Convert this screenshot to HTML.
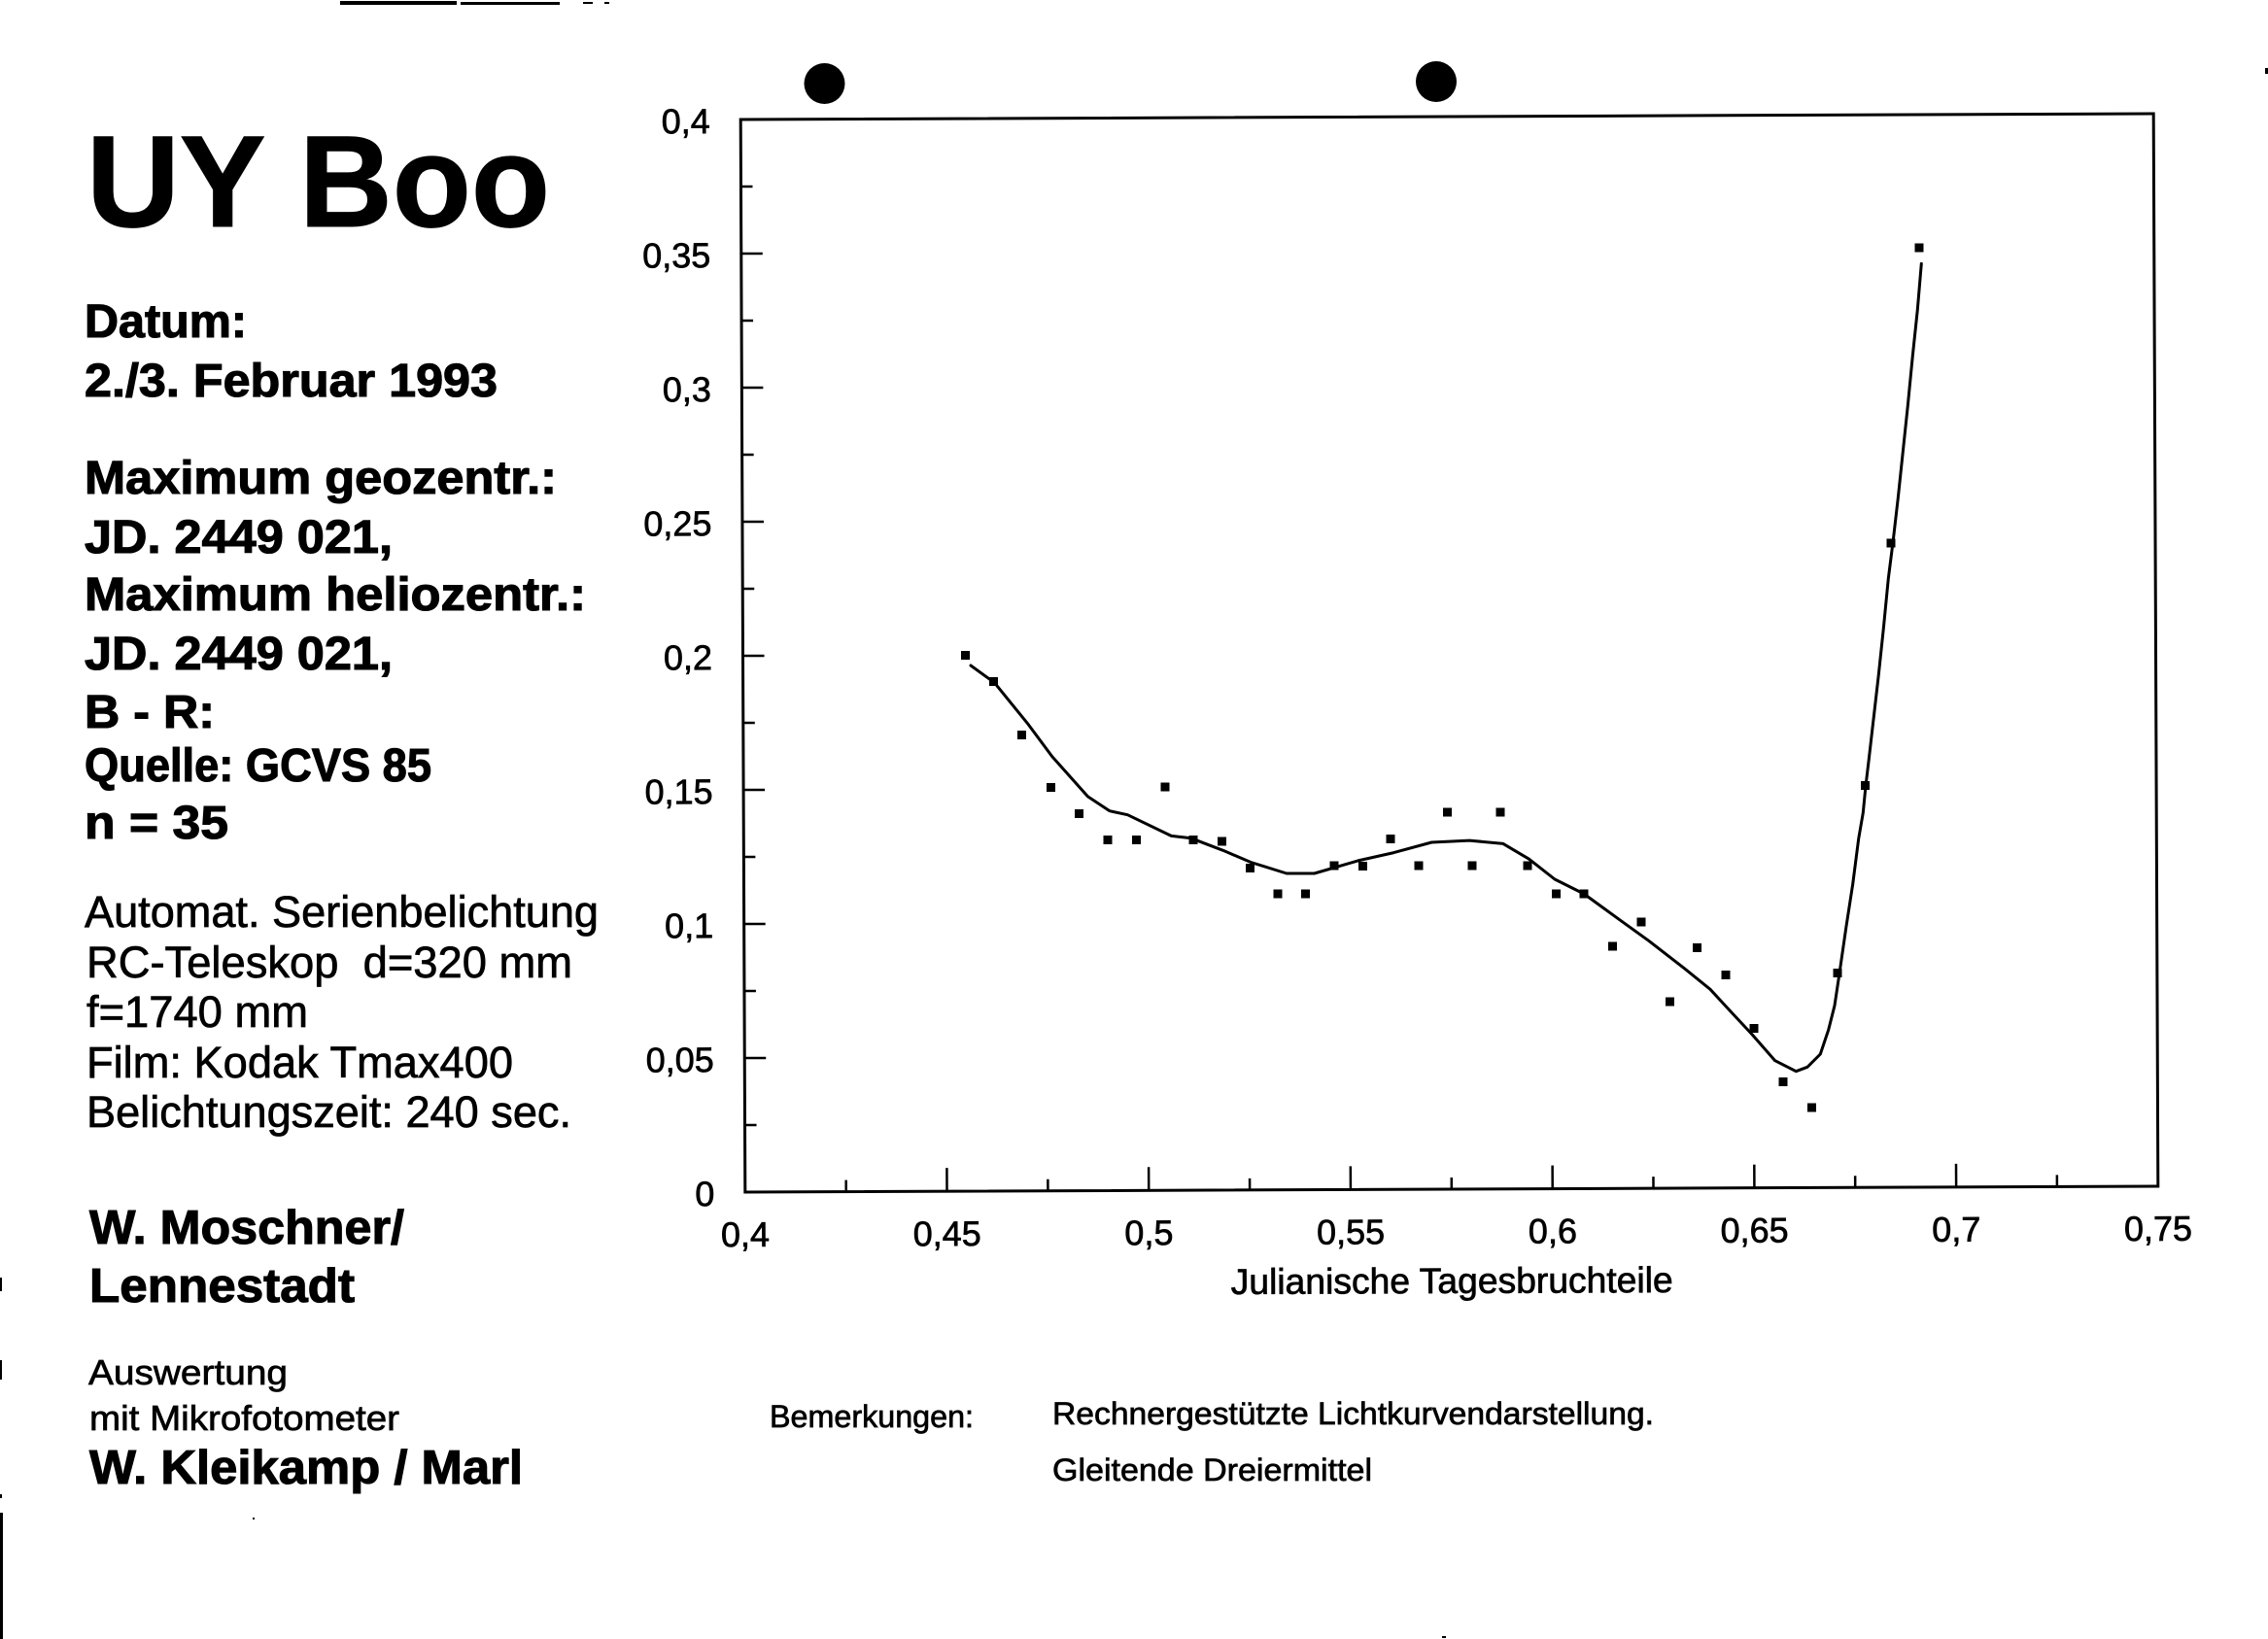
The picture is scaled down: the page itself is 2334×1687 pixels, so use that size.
<!DOCTYPE html>
<html>
<head>
<meta charset="utf-8">
<style>
  html, body { margin: 0; padding: 0; background: #fff; }
  body { width: 2334px; height: 1687px; overflow: hidden; }
  svg { display: block; }
  text { font-family: "Liberation Sans", Arial, sans-serif; fill: #000; white-space: pre; stroke: #000; stroke-width: 0.7px; }
  .b { font-weight: bold; stroke-width: 1.1px; }
</style>
</head>
<body>
<svg width="2334" height="1687" viewBox="0 0 2334 1687" xmlns="http://www.w3.org/2000/svg">
  <rect x="0" y="0" width="2334" height="1687" fill="#fff"/>

  <!-- scan artifacts -->
  <rect x="350" y="1" width="120" height="4" fill="#000"/>
  <rect x="474" y="2" width="102" height="3" fill="#000"/>
  <rect x="600" y="2" width="10" height="2" fill="#000"/>
  <rect x="622" y="2" width="5" height="2" fill="#000"/>
  <rect x="0" y="1557" width="3" height="130" fill="#000"/>
  <rect x="0" y="1315" width="2" height="14" fill="#000"/>
  <rect x="0" y="1400" width="2" height="20" fill="#000"/>
  <rect x="0" y="1538" width="2" height="4" fill="#000"/>
  <rect x="2331" y="70" width="3" height="6" fill="#000"/>
  <rect x="260" y="1562" width="2" height="2" fill="#000"/>
  <rect x="1484" y="1684" width="4" height="2" fill="#000"/>

  <!-- title + left text block -->
  <text class="b" x="89" y="233" font-size="134" textLength="477" lengthAdjust="spacingAndGlyphs">UY Boo</text>

  <text class="b" x="87" y="347" font-size="48" textLength="167" lengthAdjust="spacingAndGlyphs">Datum:</text>
  <text class="b" x="87" y="408" font-size="48" textLength="425" lengthAdjust="spacingAndGlyphs">2./3. Februar 1993</text>
  <text class="b" x="87" y="508" font-size="48" textLength="486" lengthAdjust="spacingAndGlyphs">Maximum geozentr.:</text>
  <text class="b" x="87" y="569" font-size="48" textLength="317" lengthAdjust="spacingAndGlyphs">JD. 2449 021,</text>
  <text class="b" x="87" y="628" font-size="48" textLength="516" lengthAdjust="spacingAndGlyphs">Maximum heliozentr.:</text>
  <text class="b" x="87" y="689" font-size="48" textLength="317" lengthAdjust="spacingAndGlyphs">JD. 2449 021,</text>
  <text class="b" x="87" y="749" font-size="48" textLength="134" lengthAdjust="spacingAndGlyphs">B - R:</text>
  <text class="b" x="87" y="804" font-size="48" textLength="357" lengthAdjust="spacingAndGlyphs">Quelle: GCVS 85</text>
  <text class="b" x="87" y="863" font-size="48" textLength="148" lengthAdjust="spacingAndGlyphs">n = 35</text>

  <text x="87" y="954" font-size="45" textLength="529" lengthAdjust="spacingAndGlyphs">Automat. Serienbelichtung</text>
  <text x="89" y="1006" font-size="45" textLength="500" lengthAdjust="spacingAndGlyphs">RC-Teleskop  d=320 mm</text>
  <text x="89" y="1057" font-size="45" textLength="228" lengthAdjust="spacingAndGlyphs">f=1740 mm</text>
  <text x="89" y="1109" font-size="45" textLength="439" lengthAdjust="spacingAndGlyphs">Film: Kodak Tmax400</text>
  <text x="89" y="1160" font-size="45" textLength="499" lengthAdjust="spacingAndGlyphs">Belichtungszeit: 240 sec.</text>

  <text class="b" x="92" y="1280" font-size="49" textLength="324" lengthAdjust="spacingAndGlyphs">W. Moschner/</text>
  <text class="b" x="92" y="1340" font-size="49" textLength="273" lengthAdjust="spacingAndGlyphs">Lennestadt</text>

  <text x="91" y="1425" font-size="36" textLength="205" lengthAdjust="spacingAndGlyphs">Auswertung</text>
  <text x="92" y="1472" font-size="36" textLength="319" lengthAdjust="spacingAndGlyphs">mit Mikrofotometer</text>
  <text class="b" x="92" y="1527" font-size="49" textLength="446" lengthAdjust="spacingAndGlyphs">W. Kleikamp / Marl</text>

  <!-- remarks -->
  <text x="792" y="1469" font-size="32" textLength="210" lengthAdjust="spacingAndGlyphs">Bemerkungen:</text>
  <text x="1083" y="1466" font-size="32" textLength="619" lengthAdjust="spacingAndGlyphs">Rechnergestützte Lichtkurvendarstellung.</text>
  <text x="1083" y="1524" font-size="32" textLength="329" lengthAdjust="spacingAndGlyphs">Gleitende Dreiermittel</text>

  <!-- black circles above plot -->
  <circle cx="848.5" cy="86" r="21" fill="#000"/>
  <circle cx="1478" cy="84" r="21" fill="#000"/>

  <!-- axes group (slightly rotated like the scan) -->
  <g transform="rotate(-0.24 1491.5 672)">
    <rect x="764.5" y="120" width="1454" height="1104" fill="none" stroke="#000" stroke-width="3"/>
    <g stroke="#000" stroke-width="2.5">
      <!-- y ticks -->
      <line x1="764.5" y1="1155" x2="776.5" y2="1155"/>
      <line x1="764.5" y1="1086" x2="786.5" y2="1086"/>
      <line x1="764.5" y1="1017" x2="776.5" y2="1017"/>
      <line x1="764.5" y1="948" x2="786.5" y2="948"/>
      <line x1="764.5" y1="879" x2="776.5" y2="879"/>
      <line x1="764.5" y1="810" x2="786.5" y2="810"/>
      <line x1="764.5" y1="741" x2="776.5" y2="741"/>
      <line x1="764.5" y1="672" x2="786.5" y2="672"/>
      <line x1="764.5" y1="603" x2="776.5" y2="603"/>
      <line x1="764.5" y1="534" x2="786.5" y2="534"/>
      <line x1="764.5" y1="465" x2="776.5" y2="465"/>
      <line x1="764.5" y1="396" x2="786.5" y2="396"/>
      <line x1="764.5" y1="327" x2="776.5" y2="327"/>
      <line x1="764.5" y1="258" x2="786.5" y2="258"/>
      <line x1="764.5" y1="189" x2="776.5" y2="189"/>
      <!-- x ticks -->
      <line x1="868.4" y1="1224" x2="868.4" y2="1212"/>
      <line x1="972.2" y1="1224" x2="972.2" y2="1200"/>
      <line x1="1076.1" y1="1224" x2="1076.1" y2="1212"/>
      <line x1="1179.9" y1="1224" x2="1179.9" y2="1200"/>
      <line x1="1283.8" y1="1224" x2="1283.8" y2="1212"/>
      <line x1="1387.6" y1="1224" x2="1387.6" y2="1200"/>
      <line x1="1491.5" y1="1224" x2="1491.5" y2="1212"/>
      <line x1="1595.4" y1="1224" x2="1595.4" y2="1200"/>
      <line x1="1699.2" y1="1224" x2="1699.2" y2="1212"/>
      <line x1="1803.1" y1="1224" x2="1803.1" y2="1200"/>
      <line x1="1906.9" y1="1224" x2="1906.9" y2="1212"/>
      <line x1="2010.8" y1="1224" x2="2010.8" y2="1200"/>
      <line x1="2114.6" y1="1224" x2="2114.6" y2="1212"/>
    </g>
    <!-- y labels -->
    <g font-size="36" text-anchor="end">
      <text x="733" y="1238">0</text>
      <text x="733" y="1100">0,05</text>
      <text x="733" y="962">0,1</text>
      <text x="733" y="824">0,15</text>
      <text x="733" y="686">0,2</text>
      <text x="733" y="548">0,25</text>
      <text x="733" y="410">0,3</text>
      <text x="733" y="272">0,35</text>
      <text x="733" y="134">0,4</text>
    </g>
    <!-- x labels -->
    <g font-size="36" text-anchor="middle">
      <text x="764.5" y="1280">0,4</text>
      <text x="972.2" y="1280">0,45</text>
      <text x="1179.9" y="1280">0,5</text>
      <text x="1387.6" y="1280">0,55</text>
      <text x="1595.4" y="1280">0,6</text>
      <text x="1803.1" y="1280">0,65</text>
      <text x="2010.8" y="1280">0,7</text>
      <text x="2218.5" y="1280">0,75</text>
    </g>
    <text x="1264" y="1331" font-size="37" textLength="455" lengthAdjust="spacingAndGlyphs">Julianische Tagesbruchteile</text>
  </g>

  <!-- smoothed curve -->
  <polyline fill="none" stroke="#000" stroke-width="3" stroke-linejoin="round" stroke-linecap="round"
    points="999,685 1023.4,702.7 1058.2,745.6 1082.7,778.6 1119.5,819.9 1142,834.7 1160.4,838.7 1205.4,860.4 1225.9,862.8 1258.6,875.3 1287.2,887.5 1324,899 1352.6,899 1397.6,885.9 1434.4,877.6 1473.3,867 1512.2,865.1 1546.9,868.4 1573.5,884.2 1600,905 1630,920 1666.7,946.7 1696.7,968.3 1733.3,996.7 1760,1018.3 1780,1040 1803.3,1065 1826.7,1091.7 1848.3,1102.7 1860,1098.3 1873.3,1085 1881.7,1060 1888,1035 1893,1001.7 1900,953.3 1906.7,910 1912.7,863.3 1917.3,836.6 1920,809 1923.3,781.3 1928.3,737.8 1933.3,694.3 1938.3,646.9 1943.3,595.5 1948.3,556 1953.3,512.5 1958.3,465 1963.3,417.6 1968.3,366.2 1973.3,318.8 1977.3,271.4"/>

  <!-- data points -->
  <g fill="#000">
    <rect x="989" y="670" width="9" height="9"/>
    <rect x="1018" y="697" width="9" height="9"/>
    <rect x="1047" y="752" width="9" height="9"/>
    <rect x="1077" y="806" width="9" height="9"/>
    <rect x="1106" y="833" width="9" height="9"/>
    <rect x="1135.5" y="860" width="9" height="9"/>
    <rect x="1165" y="860" width="9" height="9"/>
    <rect x="1194.5" y="805.5" width="9" height="9"/>
    <rect x="1223.5" y="860" width="9" height="9"/>
    <rect x="1253" y="861.5" width="9" height="9"/>
    <rect x="1282" y="889" width="9" height="9"/>
    <rect x="1310.5" y="915.5" width="9" height="9"/>
    <rect x="1339" y="915.5" width="9" height="9"/>
    <rect x="1368.5" y="886.5" width="9" height="9"/>
    <rect x="1398" y="887" width="9" height="9"/>
    <rect x="1426.5" y="859" width="9" height="9"/>
    <rect x="1455.5" y="886.5" width="9" height="9"/>
    <rect x="1485" y="831.5" width="9" height="9"/>
    <rect x="1510.5" y="886.5" width="9" height="9"/>
    <rect x="1539.5" y="831.5" width="9" height="9"/>
    <rect x="1567.5" y="886.5" width="9" height="9"/>
    <rect x="1597" y="915.5" width="9" height="9"/>
    <rect x="1625.5" y="915.5" width="9" height="9"/>
    <rect x="1655" y="969.5" width="9" height="9"/>
    <rect x="1684.5" y="944.5" width="9" height="9"/>
    <rect x="1714" y="1026.5" width="9" height="9"/>
    <rect x="1742" y="971" width="9" height="9"/>
    <rect x="1771.5" y="999" width="9" height="9"/>
    <rect x="1800.5" y="1054" width="9" height="9"/>
    <rect x="1830.5" y="1109" width="9" height="9"/>
    <rect x="1860" y="1135.5" width="9" height="9"/>
    <rect x="1886.5" y="997" width="9" height="9"/>
    <rect x="1915" y="804" width="9" height="9"/>
    <rect x="1941.5" y="554.5" width="9" height="9"/>
    <rect x="1970.5" y="250.5" width="9" height="9"/>
  </g>
</svg>
</body>
</html>
